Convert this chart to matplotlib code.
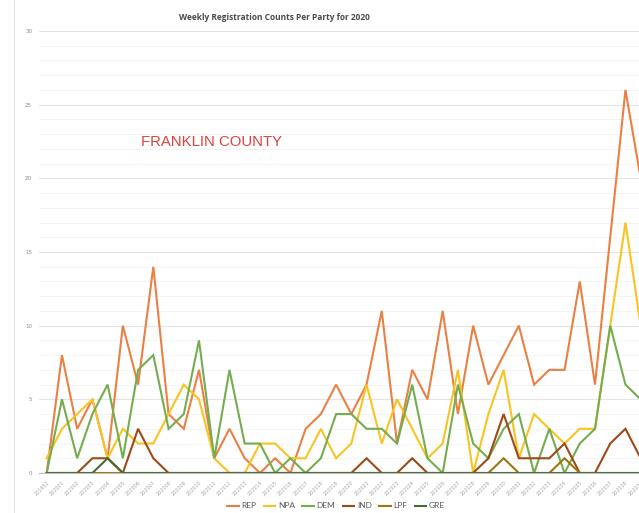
import matplotlib
matplotlib.use("Agg")
import matplotlib.pyplot as plt
from matplotlib.lines import Line2D
from matplotlib.ticker import MultipleLocator

weeks = ["201952", "202001", "202002", "202003", "202004", "202005", "202006", "202007",
         "202008", "202009", "202010", "202011", "202012", "202013", "202014", "202015",
         "202016", "202017", "202018", "202019", "202020", "202021", "202022", "202023",
         "202024", "202025", "202026", "202027", "202028", "202029", "202030", "202031",
         "202032", "202033", "202034", "202035", "202036", "202037", "202038", "202039"]

REP = [0, 8, 3, 5, 1, 10, 6, 14, 4, 3, 7, 1, 3, 1, 0, 1, 0, 3, 4, 6,
       4, 6, 11, 2, 7, 5, 11, 4, 10, 6, 8, 10, 6, 7, 7, 13, 6, 16, 26, 20]
NPA = [1, 3, 4, 5, 1, 3, 2, 2, 4, 6, 5, 1, 0, 0, 2, 2, 1, 1, 3, 1,
       2, 6, 2, 5, 3, 1, 2, 7, 0, 4, 7, 1, 4, 3, 2, 3, 3, 10, 17, 10]
DEM = [0, 5, 1, 4, 6, 1, 7, 8, 3, 4, 9, 1, 7, 2, 2, 0, 1, 0, 1, 4,
       4, 3, 3, 2, 6, 1, 0, 6, 2, 1, 3, 4, 0, 3, 0, 2, 3, 10, 6, 5]
IND = [0, 0, 0, 1, 1, 0, 3, 1, 0, 0, 0, 0, 0, 0, 0, 0, 0, 0, 0, 0,
       0, 1, 0, 0, 1, 0, 0, 0, 0, 1, 4, 1, 1, 1, 2, 0, 0, 2, 3, 1]
LPF = [0, 0, 0, 0, 0, 0, 0, 0, 0, 0, 0, 0, 0, 0, 0, 0, 0, 0, 0, 0,
       0, 0, 0, 0, 0, 0, 0, 0, 0, 0, 1, 0, 0, 0, 1, 0, 0, 0, 0, 0]
GRE = [0, 0, 0, 0, 1, 0, 0, 0, 0, 0, 0, 0, 0, 0, 0, 0, 0, 0, 0, 0,
       0, 0, 0, 0, 0, 0, 0, 0, 0, 0, 0, 0, 0, 0, 0, 0, 0, 0, 0, 0]

series = [("REP", REP, "#EA8043"), ("NPA", NPA, "#F9C421"), ("DEM", DEM, "#74AD50"),
          ("IND", IND, "#9E4A17"), ("LPF", LPF, "#9C7710"), ("GRE", GRE, "#4A6A33")]

W, H = 639, 513
fig = plt.figure(figsize=(W / 100, H / 100), dpi=100)

left_px, bottom_px, top_px = 39.1, 473, 31
spacing = 15.23
width_px = spacing * len(weeks)
ax = fig.add_axes([left_px / W, (H - bottom_px) / H, width_px / W, (bottom_px - top_px) / H])

x = list(range(len(weeks)))
for name, vals, col in series:
    ax.plot(x, vals, color=col, lw=1.5, label=name, solid_joinstyle="miter")

ax.set_xlim(-0.5, len(weeks) - 0.5)
ax.set_ylim(0, 30)
ax.yaxis.set_major_locator(MultipleLocator(5))
ax.yaxis.set_minor_locator(MultipleLocator(1))
ax.grid(which="major", axis="y", color="#E4E4E4", lw=0.8)
ax.grid(which="minor", axis="y", color="#F3F3F3", lw=0.6)
ax.set_axisbelow(True)
for s in ["top", "right", "left"]:
    ax.spines[s].set_visible(False)
ax.spines["bottom"].set_color("#BFBFBF")
ax.spines["bottom"].set_linewidth(0.8)

ax.set_xticks(x)
ax.set_xticklabels(weeks, rotation=45, ha="right", rotation_mode="anchor",
                   fontsize=3.5, color="#A6A6A6")
ax.tick_params(axis="x", length=0, pad=5)
ax.tick_params(axis="y", which="both", length=0, pad=5, labelsize=4, labelcolor="#8C8C8C")

fig.text(274 / W, 1 - 17 / H, "Weekly Registration Counts Per Party for 2020",
         ha="center", va="center", fontsize=6.0, fontweight="bold", color="#4A4A4A",
         family="Open Sans")
fig.text(141 / W, 1 - 142 / H, "FRANKLIN COUNTY", ha="left", va="center",
         fontsize=10.7, color="#E0413C", family="Liberation Sans")

fig.add_artist(Line2D([13.5 / W, 13.5 / W], [0, 1], color="#E6E6E6", lw=0.8))

handles = [Line2D([], [], color=c, lw=1.5) for _, _, c in series]
fig.legend(handles, [n for n, _, _ in series], loc="center",
           bbox_to_anchor=(336 / W, 1 - 506 / H), ncol=6, frameon=False,
           handlelength=1.4, handletextpad=0.3, columnspacing=0.9,
           labelcolor="#595959", prop={"family": "Lato", "size": 6})

fig.savefig("out.png", dpi=100)
